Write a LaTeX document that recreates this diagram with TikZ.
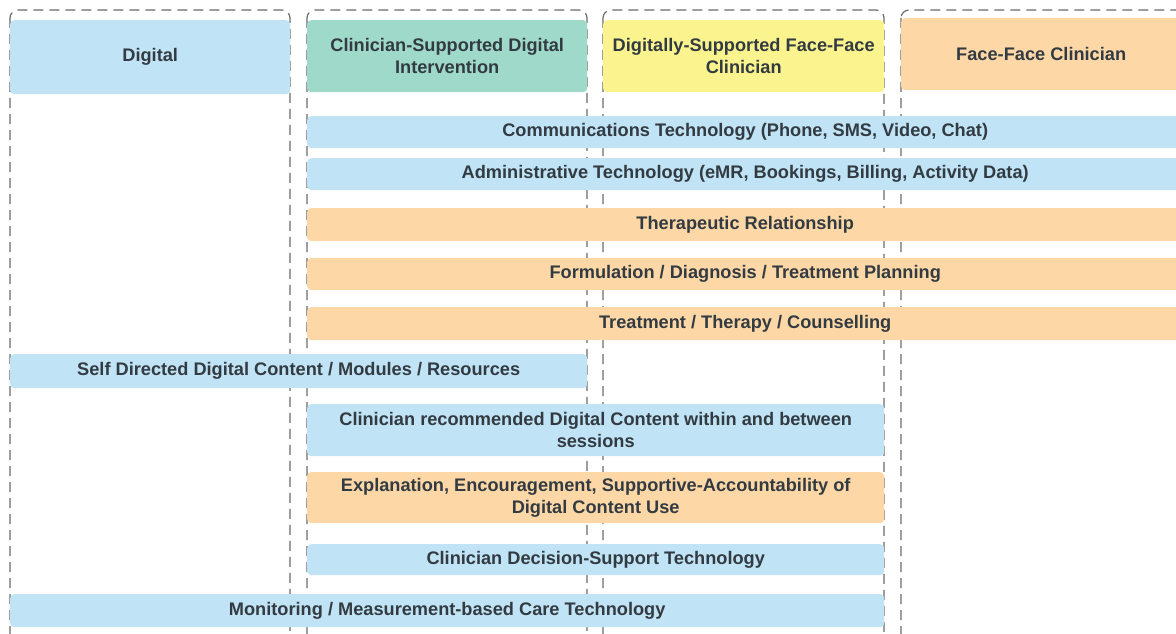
\documentclass[tikz,border=0pt]{standalone}
\usepackage{fontspec}
\setmainfont{Liberation Sans}
\usetikzlibrary{positioning}

\begin{document}
\begin{tikzpicture}[x=1pt, y=-1pt]
    \def\fs{18.2}

    \definecolor{lane-blue}{HTML}{C0E3F5}
    \definecolor{lane-green}{HTML}{9FD9CA}
    \definecolor{lane-yellow}{HTML}{FBF48E}
    \definecolor{lane-orange}{HTML}{FDD8A6}
    \definecolor{lane-text}{HTML}{333B42}
    \definecolor{lane-dash}{HTML}{6A6A6A}

    \tikzset{
      lane/.style={
        draw=lane-dash,
        line width=1.2pt,
        dash pattern=on 10pt off 6pt,
        rounded corners=8pt
      },
      bar/.style={
        anchor=north west,
        rounded corners=4pt,
        inner sep=0pt,
        align=center,
        text=lane-text,
        font=\fontsize{\fs}{22}\selectfont\bfseries
      },
      bluebar/.style={bar, fill=lane-blue},
      orangebar/.style={bar, fill=lane-orange}
    }

    \useasboundingbox (0,0) rectangle (1176,634);
    \clip (0,0) rectangle (1176,634);

    % swim lanes
    \draw[lane] (10,10) rectangle (290,660);
    \draw[lane] (307,10) rectangle (587,660);
    \draw[lane] (603,10) rectangle (884,660);
    \draw[lane] (901,10) rectangle (1200,660);

    % lane headers
    \node[bluebar, minimum width=280, minimum height=74] (digital) at (10,20) {Digital};
    \node[bar, fill=lane-green, minimum width=280, minimum height=72] (csdi) at (307,20)
      {Clinician-Supported Digital\\Intervention};
    \node[bar, fill=lane-yellow, minimum width=281, minimum height=72] (dsff) at (603,20)
      {Digitally-Supported Face-Face\\Clinician};
    \node[orangebar, minimum width=280, minimum height=72] (ffc) at (901,18) {Face-Face Clinician};

    % shared components
    \node[bluebar, minimum width=890, minimum height=32] (comms) at (307,116)
      {\hspace*{-14pt}Communications Technology (Phone, SMS, Video, Chat)};
    \node[bluebar, minimum width=890, minimum height=32] (admin) at (307,158)
      {\hspace*{-14pt}Administrative Technology (eMR, Bookings, Billing, Activity Data)};
    \node[orangebar, minimum width=890, minimum height=33] (thera) at (307,208)
      {\hspace*{-14pt}Therapeutic Relationship};
    \node[orangebar, minimum width=890, minimum height=32] (formul) at (307,258)
      {\hspace*{-14pt}Formulation / Diagnosis / Treatment Planning};
    \node[orangebar, minimum width=890, minimum height=33] (treat) at (307,307)
      {\hspace*{-14pt}Treatment / Therapy / Counselling};

    \node[bluebar, minimum width=577, minimum height=34] (selfdir) at (10,354)
      {Self Directed Digital Content / Modules / Resources};
    \node[bluebar, minimum width=577, minimum height=52] (recomm) at (307,404)
      {Clinician recommended Digital Content within and between\\sessions};
    \node[orangebar, minimum width=577, minimum height=51] (explain) at (307,472)
      {Explanation, Encouragement, Supportive-Accountability of\\Digital Content Use};
    \node[bluebar, minimum width=577, minimum height=31] (decision) at (307,544)
      {Clinician Decision-Support Technology};
    \node[bluebar, minimum width=874, minimum height=33] (monitor) at (10,594)
      {Monitoring / Measurement-based Care Technology};
\end{tikzpicture}
\end{document}
